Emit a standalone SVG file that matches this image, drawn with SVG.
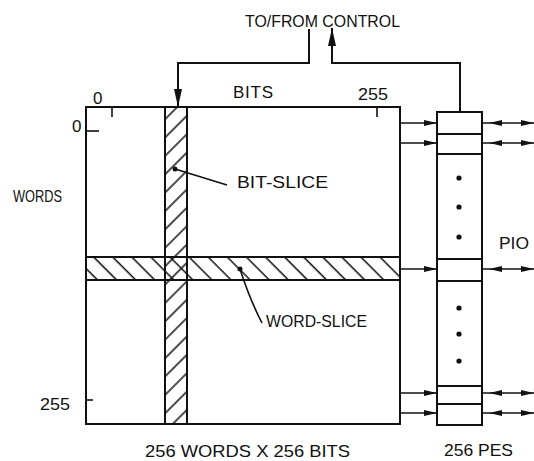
<svg xmlns="http://www.w3.org/2000/svg" width="534" height="461" viewBox="0 0 534 461">
<style>
.ln{fill:none;stroke:#111;stroke-width:2}
.thin{fill:none;stroke:#111;stroke-width:1.6}
.t{font-family:"Liberation Sans",Arial,sans-serif;font-size:17px;fill:#111}
</style>
<defs>
<pattern id="hatchBit" patternUnits="userSpaceOnUse" width="13" height="13" patternTransform="rotate(45)">
<line x1="6" y1="-2" x2="6" y2="15" stroke="#111" stroke-width="1.5"/>
</pattern>
<pattern id="hatchWord" patternUnits="userSpaceOnUse" width="13.5" height="13.5" patternTransform="rotate(-45)">
<line x1="6" y1="-2" x2="6" y2="16" stroke="#111" stroke-width="1.5"/>
</pattern>
<marker id="bigHead" markerUnits="userSpaceOnUse" viewBox="0 0 18 8" markerWidth="18" markerHeight="8" refX="18" refY="4" orient="auto">
<path d="M0,0 L18,4 L0,8 z" fill="#111"/>
</marker>
<marker id="head" markerUnits="userSpaceOnUse" viewBox="0 0 13 6" markerWidth="13" markerHeight="6" refX="13" refY="3" orient="auto">
<path d="M0,0 L13,3 L0,6 z" fill="#111"/>
</marker>
<marker id="headStart" markerUnits="userSpaceOnUse" viewBox="0 0 13 6" markerWidth="13" markerHeight="6" refX="20" refY="3" orient="auto-start-reverse">
<path d="M0,0 L13,3 L0,6 z" fill="#111"/>
</marker>
</defs>

<g id="memory-array">
<rect x="86" y="107" width="314" height="317" class="ln" stroke-width="2.2"/>
<line x1="112" y1="107" x2="112" y2="117" class="thin"/>
<line x1="377" y1="107" x2="377" y2="117" class="thin"/>
<line x1="86" y1="131" x2="99" y2="131" class="thin"/>
<line x1="86" y1="400" x2="93" y2="400" class="thin"/>
</g>

<g id="word-slice">
<rect x="86" y="257" width="314" height="23" fill="url(#hatchWord)"/>
<rect x="86" y="257" width="314" height="23" class="ln"/>
<circle cx="240" cy="269" r="2.5" fill="#111"/>
<path d="M240,269 Q250,300 262,323" class="thin"/>
</g>

<g id="bit-slice">
<rect x="165" y="107" width="22" height="317" fill="url(#hatchBit)"/>
<rect x="165" y="107" width="22" height="317" class="ln"/>
<circle cx="175" cy="169" r="2.5" fill="#111"/>
<line x1="175" y1="169" x2="227" y2="185" class="thin"/>
</g>

<g id="pe-column">
<rect x="437" y="112" width="45" height="313" class="ln"/>
<line x1="437" y1="134" x2="482" y2="134" class="ln"/>
<line x1="437" y1="154" x2="482" y2="154" class="ln"/>
<line x1="437" y1="259" x2="482" y2="259" class="ln"/>
<line x1="437" y1="281" x2="482" y2="281" class="ln"/>
<line x1="437" y1="386" x2="482" y2="386" class="ln"/>
<line x1="437" y1="404" x2="482" y2="404" class="ln"/>
<circle cx="459" cy="178" r="2.6" fill="#111"/>
<circle cx="459" cy="207" r="2.6" fill="#111"/>
<circle cx="459" cy="237" r="2.6" fill="#111"/>
<circle cx="459" cy="308" r="2.6" fill="#111"/>
<circle cx="459" cy="334" r="2.6" fill="#111"/>
<circle cx="459" cy="361" r="2.6" fill="#111"/>
</g>

<g id="connectors">
<path d="M309,29 V63 H178 V107" class="ln" marker-end="url(#bigHead)"/>
<path d="M460,112 V63 H332 V28" class="ln" marker-end="url(#bigHead)"/>
<line x1="400" y1="123" x2="437" y2="123" class="thin" marker-end="url(#head)"/>
<line x1="400" y1="143" x2="437" y2="143" class="thin" marker-end="url(#head)"/>
<line x1="400" y1="269" x2="437" y2="269" class="thin" marker-end="url(#head)"/>
<line x1="400" y1="393" x2="437" y2="393" class="thin" marker-end="url(#head)"/>
<line x1="400" y1="413" x2="437" y2="413" class="thin" marker-end="url(#head)"/>
<line x1="482" y1="123" x2="534" y2="123" class="thin" marker-start="url(#headStart)" marker-end="url(#head)"/>
<line x1="482" y1="143" x2="534" y2="143" class="thin" marker-start="url(#headStart)" marker-end="url(#head)"/>
<line x1="482" y1="269" x2="534" y2="269" class="thin" marker-start="url(#headStart)" marker-end="url(#head)"/>
<line x1="482" y1="393" x2="534" y2="393" class="thin" marker-start="url(#headStart)" marker-end="url(#head)"/>
<line x1="482" y1="413" x2="534" y2="413" class="thin" marker-start="url(#headStart)" marker-end="url(#head)"/>
</g>

<g id="labels">
<text class="t" x="245" y="27" textLength="155" lengthAdjust="spacingAndGlyphs">TO/FROM CONTROL</text>
<text class="t" x="233" y="98" textLength="40" lengthAdjust="spacing">BITS</text>
<text class="t" x="93" y="104">0</text>
<text class="t" x="358" y="100" textLength="30" lengthAdjust="spacingAndGlyphs">255</text>
<text class="t" x="72" y="132">0</text>
<text class="t" x="13" y="202" textLength="49" lengthAdjust="spacingAndGlyphs">WORDS</text>
<text class="t" x="237" y="188" textLength="91" lengthAdjust="spacingAndGlyphs">BIT-SLICE</text>
<text class="t" x="266" y="327" textLength="101" lengthAdjust="spacingAndGlyphs">WORD-SLICE</text>
<text class="t" x="499" y="249" textLength="30" lengthAdjust="spacingAndGlyphs">PIO</text>
<text class="t" x="40" y="410" textLength="30" lengthAdjust="spacingAndGlyphs">255</text>
<text class="t" x="145" y="457" textLength="205" lengthAdjust="spacingAndGlyphs">256 WORDS X 256 BITS</text>
<text class="t" x="444" y="456" textLength="69" lengthAdjust="spacingAndGlyphs">256 PES</text>
</g>
</svg>
